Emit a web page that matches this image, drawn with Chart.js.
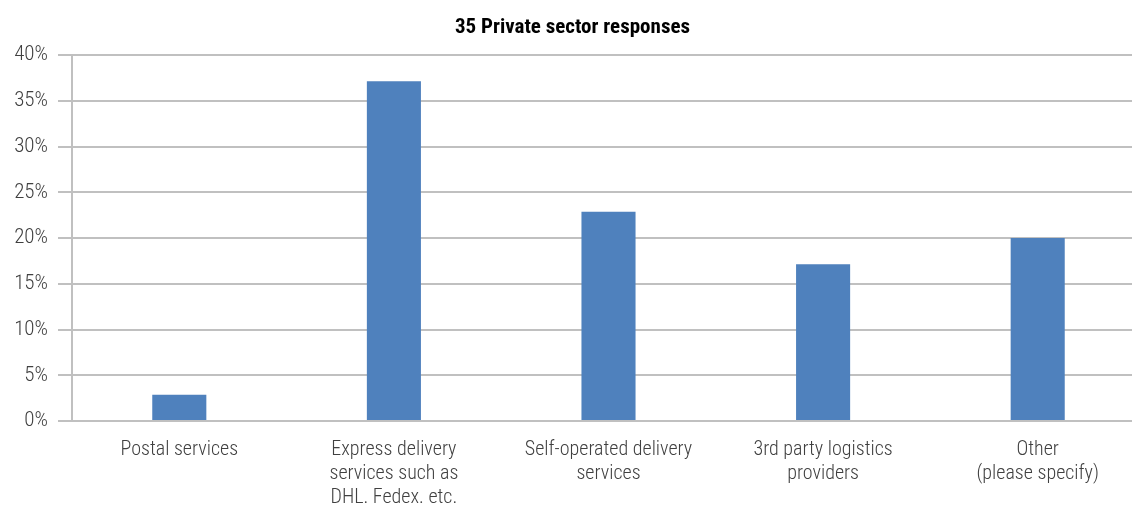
<!DOCTYPE html>
<html>
<head>
<meta charset="utf-8">
<script src="https://cdn.jsdelivr.net/npm/chart.js@4/dist/chart.umd.min.js"></script>
<style>
  html, body { margin: 0; padding: 0; background: #fff; }
  #frame { width: 1132px; height: 505px; overflow: hidden; }
  /* plot runs slightly past the right edge of the frame */
  #wrap { width: 1145px; height: 505px; }
</style>
</head>
<body>
<div id="frame"><div id="wrap"><canvas id="chart"></canvas></div></div>
<script>
const categories = [
    ['Postal services'],
    ['Express delivery', 'services such as', 'DHL. Fedex. etc.'],
    ['Self-operated delivery', 'services'],
    ['3rd party logistics', 'providers'],
    ['Other', '(please specify)']
];
// share of the 35 private sector responses
const shares = [0.0286, 0.3714, 0.2286, 0.1714, 0.2000];
const yTicks = [0, 0.05, 0.10, 0.15, 0.20, 0.25, 0.30, 0.35, 0.40];

const FONT = '"Liberation Sans Narrow", "Arial Narrow", "Roboto Condensed", sans-serif';
const GRID = '#c0c0c0';

new Chart(document.getElementById('chart').getContext('2d'), {
    type: 'bar',
    data: {
        labels: categories,
        datasets: [{
            label: 'Private sector',
            data: shares,
            backgroundColor: '#4f81bd',
            barPercentage: 0.252,
            categoryPercentage: 1.0
        }]
    },
    options: {
        responsive: true,
        maintainAspectRatio: false,
        animation: false,
        layout: { padding: 0 },
        plugins: {
            legend: { display: false },
            tooltip: { enabled: false },
            title: {
                display: true,
                text: '35 Private sector responses',
                color: '#000',
                font: { family: FONT, size: 21, weight: 'bold', lineHeight: 1.0 },
                padding: { top: 17, bottom: 17 }
            }
        },
        scales: {
            x: {
                grid: { display: false },
                border: { display: false },
                afterFit: axis => { axis.height = 84; },
                ticks: {
                    color: '#404040',
                    font: { family: FONT, size: 20, weight: 300, lineHeight: 1.2 },
                    maxRotation: 0,
                    autoSkip: false,
                    padding: 9
                }
            },
            y: {
                min: 0,
                max: 0.4,
                afterBuildTicks: axis => { axis.ticks = yTicks.map(v => ({ value: v })); },
                afterFit: axis => { axis.width = 72; },
                grid: { color: GRID, lineWidth: 2, tickLength: 14 },
                border: { display: true, color: GRID, width: 2 },
                ticks: {
                    color: '#404040',
                    font: { family: FONT, size: 21, weight: 300 },
                    padding: 10,
                    callback: v => Math.round(v * 100) + '%'
                }
            }
        }
    }
});
</script>
</body>
</html>
